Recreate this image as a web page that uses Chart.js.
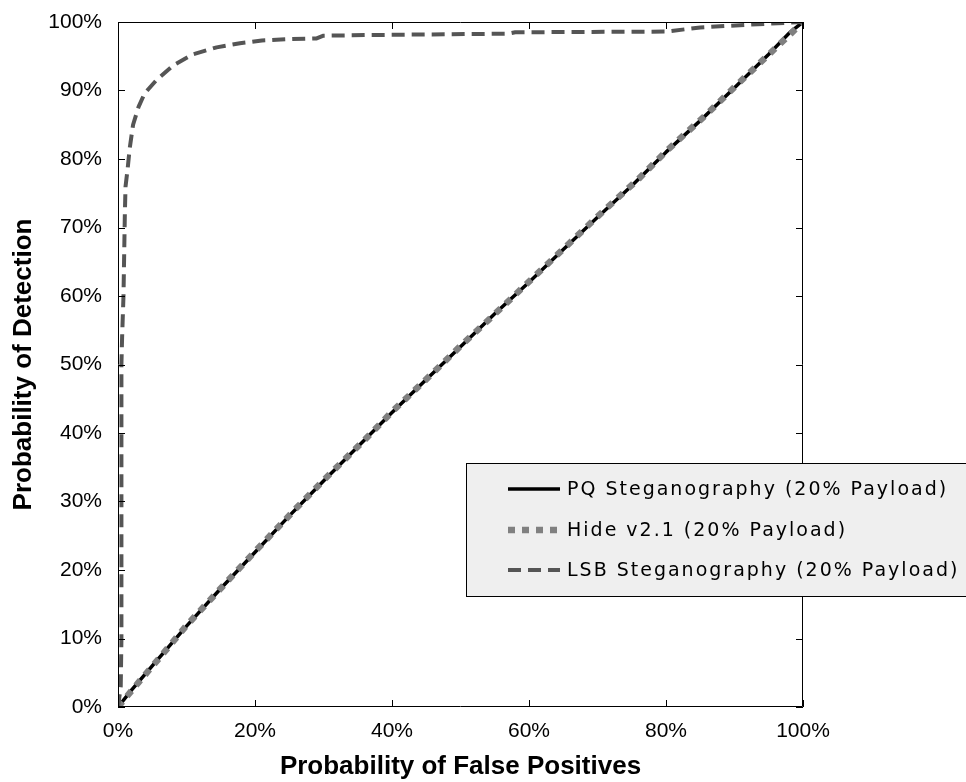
<!DOCTYPE html>
<html>
<head>
<meta charset="utf-8">
<script src="https://cdn.jsdelivr.net/npm/chart.js@4/dist/chart.umd.min.js"></script>
<style>
  html, body { margin: 0; padding: 0; background: #fff; }
  canvas { display: block; }
</style>
</head>
<body>
<canvas id="roc" width="966" height="782"></canvas>
<script>
// tick values for both axes (percent)
const xTicks = [0, 20, 40, 60, 80, 100]
const yTicks = [0, 10, 20, 30, 40, 50, 60, 70, 80, 90, 100]

// PQ steganography, 20% payload
const pqFpr = [0, 2, 5, 10, 15, 20, 25, 30, 35, 40, 45, 50, 55, 60, 65, 70, 75, 80, 85, 90, 95, 98, 100]
const pqTpr = [0, 2.5, 6, 11.8, 17.3, 22.6, 27.9, 33, 38, 43, 47.8, 52.6, 57.4, 62, 66.8, 71.5, 76.1, 81, 85.6, 90.4, 95.3, 98.4, 100]

// Hide v2.1, 20% payload
const hideFpr = [0, 3, 6, 10, 16, 20, 26, 30, 36, 40, 46, 50, 56, 60, 66, 70, 76, 80, 86, 90, 96, 100]
const hideTpr = [0, 3.6, 7.1, 11.9, 18.4, 22.7, 29.0, 33.1, 39.0, 43.1, 48.8, 52.7, 58.3, 62.1, 67.8, 71.6, 77.1, 81.1, 86.6, 90.5, 96.2, 100]

// LSB steganography, 20% payload
const lsbFpr = [0, 0.4, 0.5, 0.5, 0.5, 0.6, 0.8, 0.9, 1.0, 1.1, 1.4, 1.7, 2.2, 3.0, 3.9, 5.6, 8.1, 11, 14.4, 17.8, 21, 25, 29, 30, 37, 57, 58, 80, 85, 92, 100]
const lsbTpr = [0, 3, 10, 30, 50, 54, 60, 66, 72, 76, 78.5, 81.5, 85, 87.6, 89.6, 91.5, 93.7, 95.3, 96.3, 96.9, 97.3, 97.5, 97.6, 98, 98.1, 98.3, 98.5, 98.6, 99.2, 99.6, 100]

const seriesLabels = ['PQ Steganography (20% Payload)', 'Hide v2.1 (20% Payload)', 'LSB Steganography (20% Payload)']

function pairs(xs, ys) {
  return xs.map((x, i) => ({ x: x, y: ys[i] }))
}

// MATLAB style box with ticks pointing inwards
const boxPlugin = {
  id: 'box',
  afterDraw(chart) {
    const { ctx, chartArea: a, scales } = chart
    const len = 7
    ctx.save()
    ctx.strokeStyle = '#000'
    ctx.lineWidth = 1
    ctx.beginPath()
    ctx.rect(a.left + 0.5, a.top + 0.5, a.right - a.left - 1, a.bottom - a.top - 1)
    xTicks.forEach(v => {
      const px = Math.round(scales.x.getPixelForValue(v)) + 0.5
      ctx.moveTo(px, a.bottom); ctx.lineTo(px, a.bottom - len)
      ctx.moveTo(px, a.top); ctx.lineTo(px, a.top + len)
    })
    yTicks.forEach(v => {
      const py = Math.round(scales.y.getPixelForValue(v)) + 0.5
      ctx.moveTo(a.left, py); ctx.lineTo(a.left + len, py)
      ctx.moveTo(a.right, py); ctx.lineTo(a.right - len, py)
    })
    ctx.stroke()
    ctx.restore()
  }
}

// legend box sitting inside the plot, cut off by the right edge
const legendPlugin = {
  id: 'boxLegend',
  afterDraw(chart) {
    const ctx = chart.ctx
    const x = 466.5, y = 463.5, w = 520, h = 133
    ctx.save()
    ctx.fillStyle = '#efefef'
    ctx.strokeStyle = '#000'
    ctx.lineWidth = 1
    ctx.fillRect(x, y, w, h)
    ctx.strokeRect(x, y, w, h)
    const rows = [489, 530, 570]
    chart.data.datasets.forEach((ds, i) => {
      const ry = rows[i]
      ctx.strokeStyle = ds.borderColor
      ctx.lineWidth = ds.borderWidth
      ctx.setLineDash(ds.borderDash || [])
      ctx.lineCap = 'butt'
      ctx.beginPath()
      ctx.moveTo(508, ry)
      ctx.lineTo(560, ry)
      ctx.stroke()
      ctx.setLineDash([])
      ctx.fillStyle = '#000'
      ctx.font = '19px "DejaVu Sans"'
      ctx.letterSpacing = '2px'
      ctx.textBaseline = 'middle'
      ctx.fillText(ds.label, 567, ry + 1)
      ctx.letterSpacing = '0px'
    })
    ctx.restore()
  }
}

const tickFont = { family: '"Liberation Sans", Arial, sans-serif', size: 21 }
const titleFont = { family: '"Liberation Sans", Arial, sans-serif', size: 26, weight: 'bold' }

new Chart(document.getElementById('roc'), {
  type: 'scatter',
  data: {
    datasets: [
      {
        label: seriesLabels[0],
        data: pairs(pqFpr, pqTpr),
        borderColor: '#000000',
        borderWidth: 3.5,
        order: 2
      },
      {
        label: seriesLabels[1],
        data: pairs(hideFpr, hideTpr),
        borderColor: '#808080',
        borderWidth: 6.5,
        borderDash: [7, 7],
        order: 1
      },
      {
        label: seriesLabels[2],
        data: pairs(lsbFpr, lsbTpr),
        borderColor: '#555555',
        borderWidth: 4,
        borderDash: [13, 7],
        order: 0
      }
    ]
  },
  options: {
    responsive: false,
    animation: false,
    showLine: true,
    elements: {
      point: { radius: 0, hoverRadius: 0 },
      line: { tension: 0, borderCapStyle: 'butt', borderJoinStyle: 'round', fill: false }
    },
    layout: { padding: { top: 22, right: 163, left: 0, bottom: 0 } },
    plugins: {
      legend: { display: false },
      tooltip: { enabled: false }
    },
    scales: {
      x: {
        type: 'linear',
        min: 0,
        max: 100,
        grid: { display: false },
        border: { display: false },
        afterFit: s => { s.height = 75 },
        afterBuildTicks: s => { s.ticks = xTicks.map(v => ({ value: v })) },
        ticks: {
          padding: 4,
          color: '#000',
          font: tickFont,
          maxRotation: 0,
          callback: v => v + '%'
        },
        title: {
          display: true,
          text: 'Probability of False Positives',
          color: '#000',
          font: titleFont,
          padding: { top: 0, bottom: 0 }
        }
      },
      y: {
        type: 'linear',
        min: 0,
        max: 100,
        grid: { display: false },
        border: { display: false },
        afterFit: s => { s.width = 118 },
        afterBuildTicks: s => { s.ticks = yTicks.map(v => ({ value: v })) },
        ticks: {
          padding: 8,
          color: '#000',
          font: tickFont,
          callback: v => v + '%'
        },
        title: {
          display: true,
          text: 'Probability of Detection',
          color: '#000',
          font: titleFont,
          padding: { top: 8, bottom: 0 }
        }
      }
    }
  },
  plugins: [boxPlugin, legendPlugin]
})
</script>
</body>
</html>
